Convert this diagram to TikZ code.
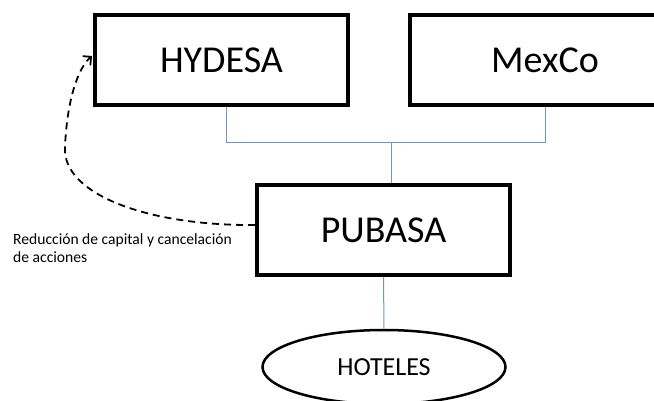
\documentclass[tikz,border=0pt]{standalone}
\usepackage{fontspec}
\setmainfont{Carlito}
\usetikzlibrary{shapes.geometric,calc,arrows.meta}
\definecolor{linkblue}{RGB}{110,150,205}
\begin{document}
\begin{tikzpicture}[x=1pt,y=-1pt,
  entity/.style={draw=black,line width=4pt,minimum width=253pt,minimum height=90pt,
    inner sep=0pt,font=\fontsize{38}{44}\selectfont},
  hotel/.style={draw=black,ellipse,line width=2.5pt,minimum width=243pt,minimum height=74pt,
    inner sep=0pt,font=\fontsize{26}{30}\selectfont},
  link/.style={draw=linkblue,line width=1pt},
  flow/.style={draw=black,line width=1.8pt,dash pattern=on 7pt off 5pt,
    -{Straight Barb[length=6pt,width=12pt,line width=1.8pt]}},
  note/.style={font=\fontsize{15.6}{18.5}\selectfont,align=left,inner sep=0pt}]
\useasboundingbox (0,0) rectangle (654,401);
\clip (0,0) rectangle (654,401);

% company boxes
\node[entity] (hy) at (221.5,60) {HYDESA};
\node[entity,minimum width=270pt] (mx) at (545,60.5) {MexCo};
\node[entity] (pu) at (383.5,230) {PUBASA};
\node[hotel] (ho) at (384,367) {HOTELES};

% ownership tree
\coordinate (jn) at (391,143);
\draw[link] ($(hy.south)+(4.5,0)$) |- (jn);
\draw[link] (mx.south) |- (jn);
\draw[link] (jn) -- (pu.north -| jn);
\draw[link] (pu.south) -- (ho.north);

% capital reduction flow
\coordinate (fa) at ($(pu.west)+(0,-5)$);
\coordinate (fb) at ($(hy.west)+(-1,-4)$);
\draw[flow] (fa) .. controls (150,226) and (62,195) .. (65,147)
  .. controls (67,100) and (78,68) .. (fb);

\node[note,anchor=north west] (lbl) at (13,233)
  {Reducción de capital y cancelación\\de acciones};
\end{tikzpicture}
\end{document}
